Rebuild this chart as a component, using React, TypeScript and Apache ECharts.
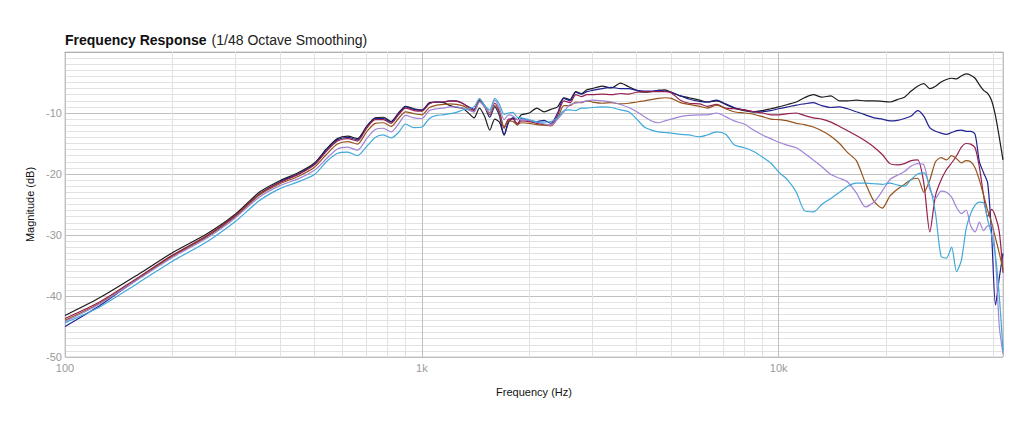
import { useEffect, useRef } from "react";
import * as echarts from "echarts";

const FONT = "'Helvetica Neue', Helvetica, Arial, 'Liberation Sans', sans-serif";
const MAJOR = "#c0c0c0";
const MINOR = "#e2e2e2";
const LABEL = "#9a9a9a";

// frequency grid (Hz)
const FREQS = [
  100, 125, 160, 200, 250, 300, 350, 400, 450, 500, 540, 580, 620, 660, 700, 740, 780, 820, 860, 900, 950,
  1000, 1050, 1100, 1150, 1200, 1250, 1300, 1350, 1400, 1450, 1500, 1550, 1600, 1650, 1700, 1750, 1800, 1850,
  1900, 2000, 2100, 2200, 2300, 2400, 2500,
  2600, 2700, 2800, 2900, 3000, 3200, 3400, 3600, 3800, 4000, 4200, 4400, 4600, 4800, 5000, 5300, 5600, 6000,
  6300, 6700, 7100, 7500, 8000, 8500, 9000, 9500, 10000, 10600, 11200, 11800, 12500, 13200, 14000, 14800,
  15600, 16500, 17500, 18500, 19500, 20500, 21500, 22500, 23500, 24500, 25500, 26500, 27500, 28500, 29500,
  30500, 31500, 32500, 33500, 34500, 35500, 36500, 37500, 38500, 39500, 40500, 41500, 42500,
];

// magnitude (dB) per measurement
const BLACK = [
  -43.2, -40.3, -36.5, -32.9, -29.8, -26.6, -23.0, -21.1, -19.8, -18.2, -15.9, -14.2, -13.8, -14.2, -12.2, -10.8, -10.7, -11.4, -10.0, -8.9, -9.3,
  -9.6, -8.3, -8.2, -8.3, -8.8, -9.1, -9.2, -10.0, -10.8, -9.2, -10.6, -12.8, -11.0, -11.5, -13.6, -11.4, -10.8, -11.1, -10.3, -10.0, -9.2, -9.8, -9.4, -9.0, -7.5,
  -7.8, -6.5, -6.8, -6.2, -6.0, -5.6, -5.9, -5.1, -5.7, -6.3, -6.6, -6.5, -6.3, -6.2, -6.6, -7.2, -7.5, -7.9,
  -8.2, -8.0, -8.6, -9.2, -9.6, -9.8, -9.6, -9.3, -9.0, -8.6, -8.2, -7.5, -7.0, -7.4, -7.2, -8.0,
  -8.0, -7.9, -8.0, -8.0, -8.1, -8.2, -7.8, -7.4, -6.4, -5.6, -5.2, -6.0, -5.6, -4.9, -4.5, -4.3, -4.4, -3.9, -3.6, -3.8, -4.3, -5.4, -6.3, -6.8, -8.0, -10.5, -14.0, -17.7,
];
const NAVY = [
  -45.0, -41.6, -37.2, -33.4, -30.2, -26.9, -23.3, -21.3, -20.0, -18.4, -16.1, -14.4, -14.0, -14.4, -12.3, -10.9, -10.9, -11.5, -10.1, -9.0, -9.4,
  -9.5, -8.4, -8.2, -8.2, -8.0, -8.0, -8.4, -9.0, -9.4, -7.9, -9.0, -10.7, -9.0, -10.5, -13.6, -11.5, -10.8, -12.0, -10.9, -11.3, -11.4, -11.2, -11.7, -10.0, -7.6,
  -8.0, -6.6, -6.9, -6.5, -6.3, -6.0, -5.8, -6.0, -6.0, -6.3, -6.4, -6.4, -6.3, -6.4, -6.6, -7.2, -7.7, -8.1,
  -8.2, -7.9, -8.5, -9.1, -9.5, -9.8, -9.8, -9.6, -9.3, -9.0, -8.7, -8.5, -8.3, -8.8, -9.1, -9.0,
  -9.3, -9.8, -10.3, -10.8, -11.0, -11.3, -11.2, -10.9, -10.5, -9.6, -10.5, -12.4, -13.0, -13.3, -13.5, -13.2, -12.9, -12.8, -13.0, -13.0, -13.5, -18.0, -19.8, -21.5, -30.0, -41.5, -37.0, -33.0,
];
const CRIMSON = [
  -43.7, -41.0, -37.0, -33.3, -30.1, -26.8, -23.3, -21.4, -20.1, -18.5, -16.3, -14.6, -14.2, -14.6, -12.5, -11.1, -11.1, -11.7, -10.3, -9.2, -9.6,
  -9.7, -8.5, -8.2, -8.2, -8.0, -8.1, -8.4, -9.0, -9.6, -7.7, -8.8, -10.0, -8.4, -9.8, -12.5, -11.0, -11.0, -11.7, -11.3, -11.4, -11.7, -11.9, -12.0, -10.4, -8.0,
  -8.3, -7.0, -7.3, -7.0, -7.0, -6.9, -7.0, -6.8, -6.9, -6.6, -6.5, -6.5, -6.5, -6.5, -6.7, -7.9, -8.4, -8.5,
  -8.9, -8.6, -9.2, -9.3, -9.5, -9.8, -10.0, -10.3, -10.3, -10.1, -10.0, -10.4, -10.8, -11.0, -11.5, -12.2,
  -12.9, -13.7, -14.6, -15.6, -16.8, -18.3, -18.5, -18.3, -17.8, -17.7, -21.5, -29.5, -23.5, -21.0, -19.3, -18.2, -17.0, -15.6, -15.0, -15.1, -15.7, -18.9, -23.5, -27.0, -25.8, -27.0, -29.5, -36.2,
];
const BROWN = [
  -44.0, -41.2, -37.2, -33.5, -30.3, -27.0, -23.5, -21.6, -20.4, -18.9, -16.8, -15.1, -14.7, -15.1, -13.1, -11.7, -11.6, -12.2, -10.9, -9.8, -10.1,
  -10.3, -9.1, -8.7, -8.6, -8.5, -8.6, -8.8, -9.3, -9.8, -8.1, -9.0, -10.3, -8.8, -10.0, -12.3, -11.3, -11.4, -11.9, -11.6, -11.7, -11.9, -12.0, -12.1, -10.9, -8.8,
  -8.8, -8.2, -8.3, -8.0, -8.2, -8.4, -8.3, -8.5, -8.4, -8.2, -8.0, -7.8, -7.6, -7.5, -7.6, -8.3, -8.6, -8.9,
  -9.2, -8.7, -9.3, -9.8, -10.0, -10.2, -10.6, -11.0, -11.1, -11.3, -11.7, -11.9, -12.3, -12.9, -13.8, -15.0,
  -16.5, -17.8, -21.5, -24.5, -25.6, -23.6, -22.5, -21.7, -20.9, -20.7, -23.0, -21.0, -18.0, -17.3, -17.7, -17.0, -17.5, -18.2, -17.8, -18.0, -19.0, -21.0, -23.5, -26.0, -28.0, -30.5, -33.0, -35.7,
];
const PURPLE = [
  -44.2, -41.3, -37.3, -33.7, -30.5, -27.2, -23.8, -21.9, -20.8, -19.4, -17.5, -15.9, -15.6, -16.1, -14.2, -12.7, -12.5, -13.1, -11.8, -10.4, -10.8,
  -10.9, -9.6, -9.3, -9.2, -9.0, -9.0, -9.2, -9.5, -9.8, -8.2, -9.0, -10.0, -7.9, -9.2, -11.1, -10.3, -10.5, -11.1, -11.1, -11.2, -11.5, -11.8, -12.0, -11.0, -9.8,
  -8.6, -8.4, -8.2, -8.0, -7.9, -8.0, -8.2, -8.6, -9.1, -9.8, -10.6, -11.3, -11.6, -11.3, -11.0, -10.6, -10.4, -10.3,
  -10.3, -10.0, -10.6, -11.3, -11.8, -12.8, -13.6, -14.2, -14.8, -15.3, -15.7, -16.6, -17.7, -18.8, -20.1, -20.7,
  -21.3, -23.1, -25.4, -24.6, -22.8, -20.9, -20.2, -19.6, -18.7, -18.3, -18.5, -22.5, -24.0, -22.8, -23.0, -23.8, -25.5, -26.5, -25.9, -28.5, -29.5, -27.9, -29.3, -28.5, -28.5, -34.0, -45.0, -49.5,
];
const LIGHTBLUE = [
  -44.4, -41.8, -37.9, -34.3, -31.1, -27.8, -24.4, -22.4, -21.3, -20.1, -18.0, -16.6, -16.4, -17.0, -15.5, -14.0, -13.6, -14.1, -13.2, -11.8, -12.4,
  -12.3, -10.9, -10.4, -10.3, -10.1, -9.9, -9.5, -9.3, -9.0, -7.7, -8.8, -9.5, -7.6, -8.6, -10.2, -10.0, -9.9, -10.7, -10.8, -11.1, -11.5, -11.5, -11.4, -10.8, -9.6,
  -9.5, -9.6, -9.2, -9.2, -9.1, -9.0, -9.1, -9.5, -9.8, -11.0, -12.3, -12.8, -13.1, -13.2, -13.3, -13.5, -13.6, -13.9,
  -13.6, -13.1, -13.5, -15.2, -15.7, -16.3, -17.2, -18.2, -19.7, -21.0, -23.0, -26.0, -26.2, -25.0, -24.0, -23.0,
  -22.0, -21.5, -21.5, -21.6, -21.7, -21.5, -21.8, -22.0, -20.9, -20.0, -19.8, -22.0, -26.5, -33.5, -33.8, -32.0, -36.0, -34.1, -29.0, -26.5, -25.1, -24.6, -24.7, -27.5, -30.0, -33.5, -40.0, -49.0,
];

const SERIES = [
  { name: "A", color: "#1c1c1c", values: BLACK },
  { name: "B", color: "#1f2190", values: NAVY },
  { name: "C", color: "#96204f", values: CRIMSON },
  { name: "D", color: "#95531d", values: BROWN },
  { name: "E", color: "#a184d6", values: PURPLE },
  { name: "F", color: "#3fa9d9", values: LIGHTBLUE },
];

// minor vertical grid lines of the log axis
const MINOR_FREQS = [
  200, 300, 400, 500, 600, 700, 800, 900, 2000, 3000, 4000, 5000, 6000, 7000, 8000, 9000, 20000, 30000, 40000,
];

export default function App() {
  const ref = useRef<HTMLDivElement>(null);

  useEffect(() => {
    if (!ref.current) return;
    const chart = echarts.init(ref.current, undefined, { renderer: "svg" });

    const series: any[] = SERIES.map((s) => ({
      name: s.name,
      type: "line",
      data: FREQS.map((f, i) => [f, s.values[i]]),
      showSymbol: false,
      smooth: 0.25,
      lineStyle: { color: s.color, width: 1.2 },
      itemStyle: { color: s.color },
      z: 3,
    }));
    series.unshift({
      name: "grid",
      type: "line",
      data: [],
      silent: true,
      z: 1,
      markLine: {
        z: 1,
        silent: true,
        animation: false,
        symbol: ["none", "none"],
        label: { show: false },
        lineStyle: { color: MINOR, width: 1, type: "solid" },
        emphasis: { disabled: true },
        data: MINOR_FREQS.map((f) => ({ xAxis: f })),
      },
    });

    chart.setOption({
      animation: false,
      textStyle: { fontFamily: FONT },
      title: {
        left: 60,
        top: 26,
        text: "{b|Frequency Response} {n|(1/48 Octave Smoothing)}",
        textStyle: {
          rich: {
            b: { fontSize: 14, fontWeight: 600, color: "#111", fontFamily: FONT },
            n: { fontSize: 14, fontWeight: 400, color: "#222", fontFamily: FONT },
          },
        },
      },
      grid: {
        left: 65,
        right: 21,
        top: 52,
        bottom: 70,
        show: true,
        borderColor: "#c8c8c8",
        borderWidth: 1,
      },
      xAxis: {
        type: "log",
        logBase: 10,
        min: 100,
        max: 42500,
        name: "Frequency (Hz)",
        nameLocation: "middle",
        nameGap: 29,
        nameTextStyle: { color: "#111", fontSize: 11, fontFamily: FONT },
        axisLine: { show: true, lineStyle: { color: "#b0b0b0" } },
        axisTick: { show: false },
        axisLabel: {
          color: LABEL,
          fontSize: 11,
          margin: 5,
          formatter: (v: number) => {
            const e = Math.log10(v);
            if (Math.abs(e - Math.round(e)) > 1e-6) return "";
            const r = Math.round(v);
            return r >= 1000 ? `${r / 1000}k` : String(r);
          },
        },
        splitLine: { show: true, lineStyle: { color: MAJOR, width: 1 } },
      },
      yAxis: {
        type: "value",
        min: -50,
        max: 0,
        interval: 10,
        name: "Magnitude (dB)",
        nameLocation: "middle",
        nameGap: 28,
        nameRotate: 90,
        nameTextStyle: { color: "#111", fontSize: 11, fontFamily: FONT },
        axisLine: { show: false },
        axisTick: { show: false },
        axisLabel: {
          color: LABEL,
          fontSize: 11,
          margin: 3,
          formatter: (v: number) => (v === 0 ? "" : String(v)),
        },
        splitLine: { show: true, lineStyle: { color: MAJOR, width: 1 } },
        minorTick: { show: false, splitNumber: 10 },
        minorSplitLine: { show: true, lineStyle: { color: MINOR, width: 1 } },
      },
      series,
    });

    return () => {
      chart.dispose();
    };
  }, []);

  return (
    <div
      ref={ref}
      style={{ position: "fixed", left: 0, top: 0, width: 1024, height: 427, background: "#fff" }}
    />
  );
}
